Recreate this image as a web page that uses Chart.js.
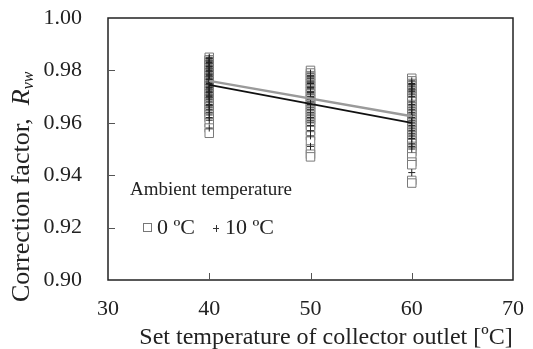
<!DOCTYPE html>
<html>
<head>
<meta charset="utf-8">
<script src="https://cdn.jsdelivr.net/npm/chart.js@4/dist/chart.umd.min.js"></script>
<style>
  html, body { margin: 0; padding: 0; background: #fff; }
  #wrap { width: 533px; height: 349px; }
</style>
</head>
<body>
<div id="wrap"><canvas id="rvw" width="533" height="349"></canvas></div>
<script>
// set temperature of collector outlet [ºC]
const setTemps = [40, 50, 60];

// correction factor at ambient 0 ºC, one list per set temperature
const rvw0at40 = [0.985, 0.984, 0.984, 0.983, 0.982, 0.982, 0.981, 0.980, 0.979, 0.979, 0.978, 0.977, 0.976, 0.976,
  0.975, 0.974, 0.973, 0.972, 0.971, 0.970, 0.969, 0.968, 0.967, 0.966, 0.965, 0.964, 0.963, 0.962, 0.960, 0.958, 0.956];
const rvw0at50 = [0.980, 0.979, 0.978, 0.977, 0.976, 0.975, 0.974, 0.973, 0.972, 0.971, 0.970, 0.969, 0.968, 0.967,
  0.966, 0.965, 0.964, 0.963, 0.962, 0.961, 0.960, 0.959, 0.957, 0.955, 0.953, 0.950, 0.948, 0.947];
const rvw0at60 = [0.977, 0.976, 0.975, 0.974, 0.973, 0.972, 0.971, 0.970, 0.969, 0.968, 0.967, 0.966, 0.965, 0.964,
  0.963, 0.962, 0.961, 0.960, 0.959, 0.958, 0.957, 0.956, 0.955, 0.954, 0.953, 0.952, 0.951, 0.950, 0.949, 0.947,
  0.945, 0.944, 0.938, 0.937];

// correction factor at ambient 10 ºC
const rvw10at40 = [0.985, 0.9845, 0.984, 0.9835, 0.983, 0.9825, 0.982, 0.9815, 0.981, 0.9805, 0.980, 0.9795, 0.979,
  0.9785, 0.978, 0.9775, 0.977, 0.9765, 0.976, 0.9755, 0.975, 0.9745, 0.974, 0.9735, 0.973, 0.9725, 0.972, 0.9715,
  0.971, 0.9705, 0.970, 0.9695, 0.969, 0.968, 0.967, 0.9665, 0.966, 0.965, 0.964, 0.963, 0.962, 0.961, 0.958];
const rvw10at50 = [0.979, 0.978, 0.9775, 0.977, 0.976, 0.9755, 0.975, 0.974, 0.9735, 0.973, 0.972, 0.9715, 0.971,
  0.970, 0.9695, 0.969, 0.968, 0.967, 0.966, 0.965, 0.964, 0.963, 0.962, 0.961, 0.960, 0.959, 0.957, 0.955, 0.951];
const rvw10at60 = [0.976, 0.975, 0.9745, 0.974, 0.973, 0.9725, 0.972, 0.971, 0.970, 0.968, 0.967, 0.966, 0.965, 0.964,
  0.963, 0.962, 0.961, 0.960, 0.959, 0.958, 0.957, 0.956, 0.955, 0.954, 0.952, 0.951, 0.950, 0.941];

// trend lines between 40 and 60 ºC
const fitX = [40, 60];
const fit0 = [0.9760, 0.9625];
const fit10 = [0.9745, 0.9600];

const xTicks = [30, 40, 50, 60, 70];
const yTicks = [0.90, 0.92, 0.94, 0.96, 0.98, 1.00];

const serif = '"Liberation Serif", "Times New Roman", serif';
const ink = '#222';

function toPoints(temps, lists) {
  const pts = [];
  temps.forEach((t, i) => {
    lists[i].forEach(v => pts.push({ x: t, y: v }));
  });
  return pts;
}

function toLine(xs, ys) {
  return xs.map((x, i) => ({ x: x, y: ys[i] }));
}

// frame, inward ticks, axis titles and legend
const framePlugin = {
  id: 'frame',
  afterDraw(chart) {
    const ctx = chart.ctx;
    const a = chart.chartArea;
    const xs = chart.scales.x;
    const ys = chart.scales.y;
    ctx.save();
    ctx.strokeStyle = ink;
    ctx.lineWidth = 1.5;
    ctx.strokeRect(a.left, a.top, a.right - a.left, a.bottom - a.top);

    ctx.lineWidth = 1;
    ctx.strokeStyle = '#555';
    ctx.beginPath();
    yTicks.slice(1, -1).forEach(v => {
      const py = Math.round(ys.getPixelForValue(v)) + 0.5;
      ctx.moveTo(a.left, py);
      ctx.lineTo(a.left + 7, py);
    });
    xTicks.slice(1, -1).forEach(v => {
      const px = Math.round(xs.getPixelForValue(v)) + 0.5;
      ctx.moveTo(px, a.bottom);
      ctx.lineTo(px, a.bottom - 7);
    });
    ctx.stroke();

    // x title
    ctx.fillStyle = ink;
    ctx.font = '24px ' + serif;
    ctx.textAlign = 'center';
    ctx.textBaseline = 'alphabetic';
    ctx.fillText('Set temperature of collector outlet [ºC]', 326, 344);

    // y title, rotated, with italic R and subscript vw
    ctx.save();
    ctx.translate(29, 302);
    ctx.rotate(-Math.PI / 2);
    ctx.textAlign = 'left';
    ctx.font = '26px ' + serif;
    const main = 'Correction factor,  ';
    ctx.fillText(main, 0, 0);
    let off = ctx.measureText(main).width;
    ctx.font = 'italic 26px ' + serif;
    ctx.fillText('R', off, 0);
    off += ctx.measureText('R').width;
    ctx.font = 'italic 16px ' + serif;
    ctx.fillText('vw', off, 4);
    ctx.restore();

    // legend
    ctx.font = '19px ' + serif;
    ctx.textAlign = 'left';
    ctx.textBaseline = 'middle';
    ctx.fillText('Ambient temperature', 130, 190);
    ctx.font = '22px ' + serif;
    ctx.fillText('0 ºC', 157, 228);
    ctx.fillText('10 ºC', 225, 228);
    ctx.strokeStyle = '#777';
    ctx.lineWidth = 1;
    ctx.strokeRect(143.5, 223.5, 8, 8);
    ctx.strokeStyle = '#333';
    ctx.beginPath();
    ctx.moveTo(213, 228.5);
    ctx.lineTo(219, 228.5);
    ctx.moveTo(216.5, 225);
    ctx.lineTo(216.5, 232);
    ctx.stroke();
    ctx.restore();
  }
};

new Chart(document.getElementById('rvw'), {
  type: 'scatter',
  data: {
    datasets: [
      {
        label: '0 ºC',
        data: toPoints(setTemps, [rvw0at40, rvw0at50, rvw0at60]),
        pointStyle: 'rect',
        pointRadius: 6,
        backgroundColor: '#fff',
        borderColor: '#7a7a7a',
        borderWidth: 1,
        order: 3
      },
      {
        label: '10 ºC',
        data: toPoints(setTemps, [rvw10at40, rvw10at50, rvw10at60]),
        pointStyle: 'cross',
        pointRadius: 3.5,
        borderColor: '#222',
        borderWidth: 1,
        order: 2
      },
      {
        type: 'line',
        label: 'fit 0 ºC',
        data: toLine(fitX, fit0),
        borderColor: '#9a9a9a',
        borderWidth: 2.5,
        pointRadius: 0,
        order: 1
      },
      {
        type: 'line',
        label: 'fit 10 ºC',
        data: toLine(fitX, fit10),
        borderColor: '#111',
        borderWidth: 1.8,
        pointRadius: 0,
        order: 0
      }
    ]
  },
  options: {
    responsive: false,
    animation: false,
    devicePixelRatio: 1,
    layout: { padding: { left: 0, top: 18, right: 20, bottom: 0 } },
    plugins: { legend: { display: false }, tooltip: { enabled: false } },
    scales: {
      x: {
        type: 'linear',
        min: 30,
        max: 70,
        afterBuildTicks(scale) { scale.ticks = xTicks.map(v => ({ value: v })); },
        afterFit(scale) {
          scale.height = 69;
          scale.paddingLeft = 0;
          scale.paddingRight = 0;
        },
        grid: { display: false },
        border: { display: false },
        ticks: { color: ink, padding: 8, font: { family: serif, size: 22 } }
      },
      y: {
        min: 0.90,
        max: 1.00,
        afterBuildTicks(scale) { scale.ticks = yTicks.map(v => ({ value: v })); },
        afterFit(scale) {
          scale.width = 108;
          scale.paddingTop = 0;
          scale.paddingBottom = 0;
        },
        grid: { display: false },
        border: { display: false },
        ticks: {
          color: ink,
          padding: 18,
          font: { family: serif, size: 22 },
          callback: v => v.toFixed(2)
        }
      }
    }
  },
  plugins: [framePlugin]
});
</script>
</body>
</html>
